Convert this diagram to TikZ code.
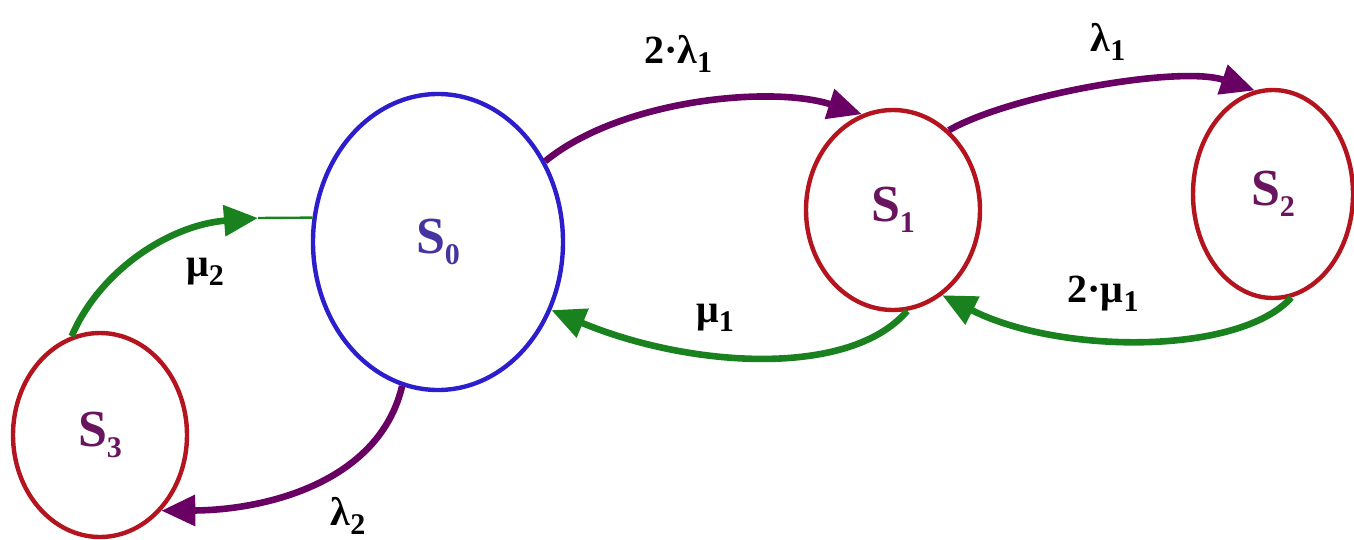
\documentclass[tikz,border=0pt]{standalone}
\usepackage{fontspec}
\setmainfont{Liberation Serif}
\usetikzlibrary{shapes.geometric,arrows.meta}
\definecolor{cblue}{RGB}{45,30,205}
\definecolor{cred}{RGB}{180,20,30}
\definecolor{cpurple}{RGB}{105,0,100}
\definecolor{cgreen}{RGB}{25,130,30}
\definecolor{tblue}{RGB}{70,50,160}
\definecolor{tpurple}{RGB}{105,20,95}
\newcommand\sbs[1]{\raisebox{-0.45ex}{\fontsize{15}{15}\selectfont #1}}
\tikzset{
  st/.style={ellipse, line width=2.2pt, inner sep=0pt, font=\bfseries\fontsize{26}{26}\selectfont},
  arr/.style={line width=3.3pt, -{Triangle[length=17pt,width=15pt]}},
  lbl/.style={font=\bfseries\fontsize{20}{20}\selectfont, text=black},
}
\begin{document}
\begin{tikzpicture}[x=0.5pt,y=-0.5pt]
\useasboundingbox (0,0) rectangle (1354,540);
\node[st, draw=cblue, text=tblue, minimum width=125pt, minimum height=148pt] (s0) at (438,242) {S\sbs{0}};
\node[st, draw=cred, text=tpurple, minimum width=87pt, minimum height=100pt] (s1) at (893,210) {S\sbs{1}};
\node[st, draw=cred, text=tpurple, minimum width=80pt, minimum height=104pt] (s2) at (1273,194) {S\sbs{2}};
\node[st, draw=cred, text=tpurple, minimum width=87pt, minimum height=102pt] (s3) at (100,435) {S\sbs{3}};

% 2 lambda1 : S0 -> S1
\draw[arr, cpurple] (s0.37) .. controls (620,100) and (770,85) .. (s1.108);
% lambda1 : S1 -> S2
\draw[arr, cpurple] (s1.55) .. controls (1010,95) and (1180,65) .. (s2.100);
% 2 mu1 : S2 -> S1
\draw[arr, cgreen] (s2.-80) .. controls (1240,355) and (1060,355) .. (s1.-60);
% mu1 : S1 -> S0
\draw[arr, cgreen] (s1.-82) .. controls (850,378) and (690,368) .. (s0.-31);
% mu2 : S3 -> S0
\coordinate (m2) at (258,218);
\draw[arr, cgreen] (s3.106) .. controls (100,270) and (170,225) .. (m2);
\draw[cgreen, line width=1.2pt] (m2) -- (s0.169);
% lambda2 : S0 -> S3
\draw[arr, cpurple] (s0.-104) .. controls (380,480) and (270,510) .. (s3.-51);

\node[lbl] (l1) at (678,54) {2·λ\sbs{1}};
\node[lbl] (l2) at (1108,42) {λ\sbs{1}};
\node[lbl] (l3) at (1103,294) {2·μ\sbs{1}};
\node[lbl] (l4) at (715,318) {μ\sbs{1}};
\node[lbl] (l5) at (205,272) {μ\sbs{2}};
\node[lbl] (l6) at (348,516) {λ\sbs{2}};
\end{tikzpicture}
\end{document}
